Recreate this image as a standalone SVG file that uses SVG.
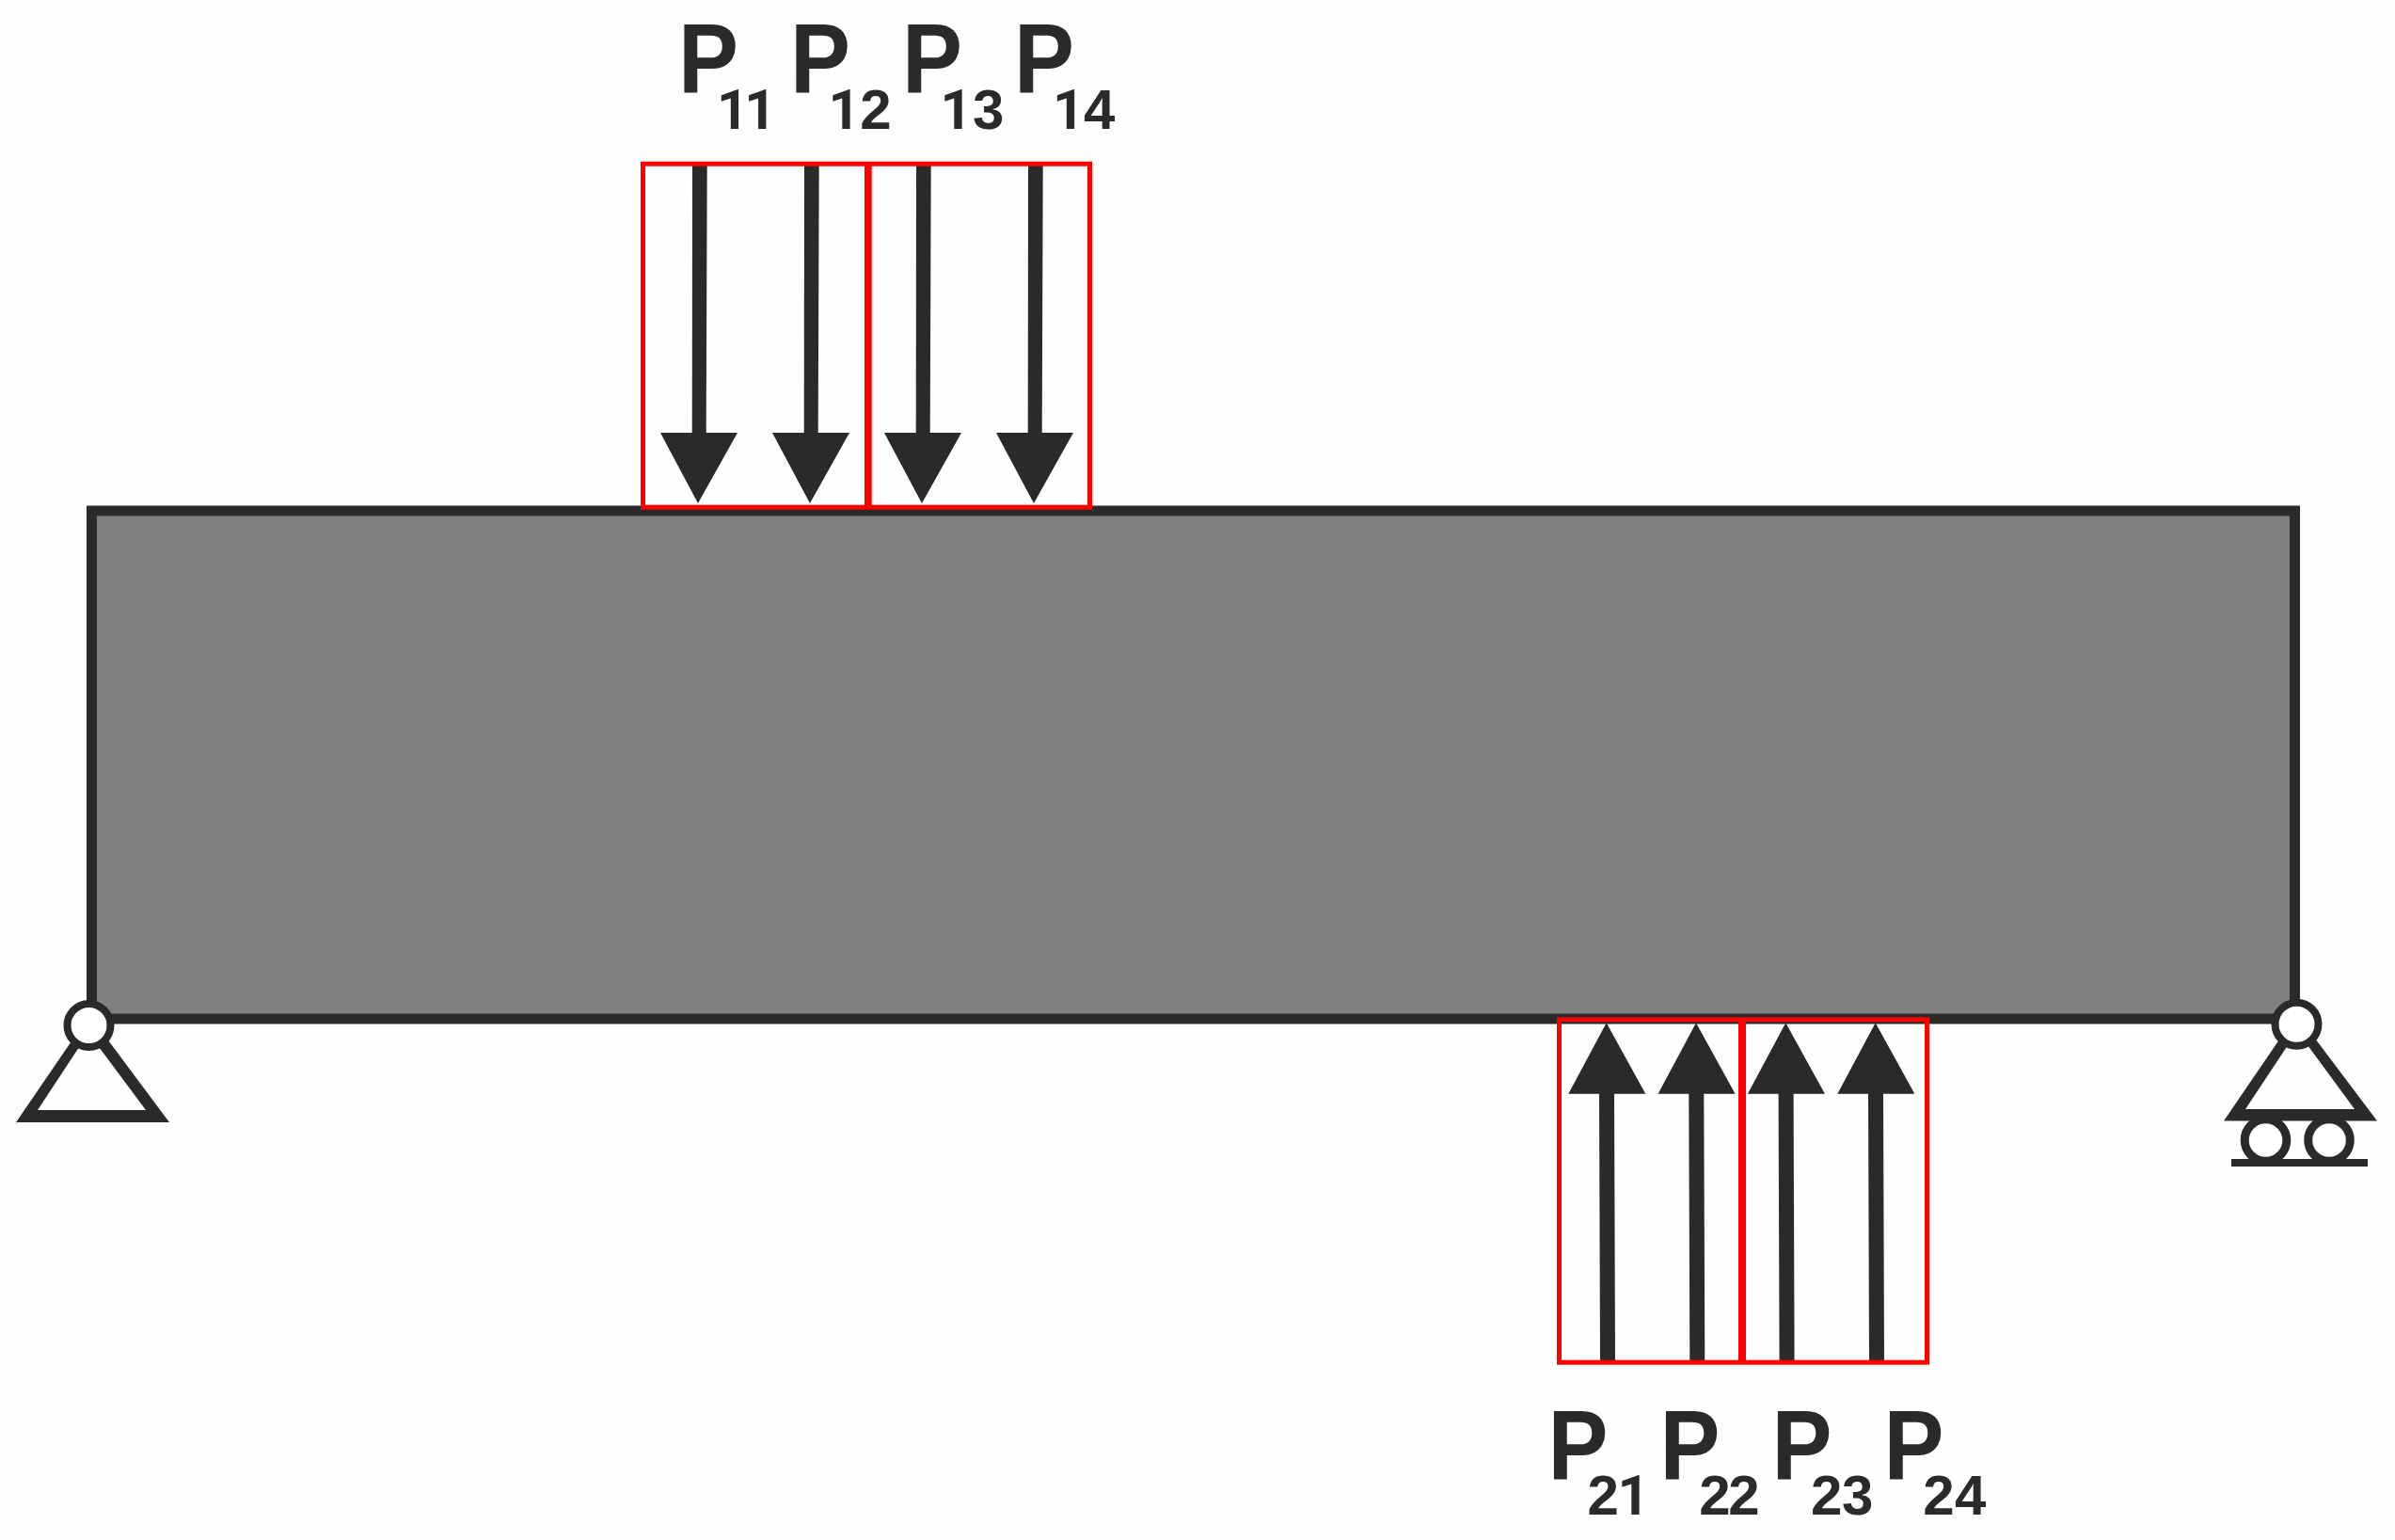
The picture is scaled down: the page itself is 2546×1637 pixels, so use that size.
<svg xmlns="http://www.w3.org/2000/svg" xmlns:xlink="http://www.w3.org/1999/xlink" width="2546" height="1637" viewBox="0 0 2546 1637">
<style>
.ink{fill:#2b2a29}
.ring{fill:#fff;stroke:#2b2a29;stroke-width:8}
.wheel{fill:#fff;stroke:#2b2a29;stroke-width:9}
.box{fill:none;stroke:#f00;stroke-width:5}
.div{fill:#f00}
.p{font-family:"Liberation Sans",Arial,sans-serif;font-weight:700;fill:#2b2a29;font-size:100px}
.s{font-family:"Liberation Sans",Arial,sans-serif;font-weight:700;fill:#2b2a29;font-size:60px}
.one{font-family:Roboto,"Liberation Sans",sans-serif;font-size:59px}
</style>
<defs>
<path id="down" class="ink" d="M736 172L751.700 172L750.700 460L784 460L742 535L702 460L735.700 460Z"/>
<path id="up" class="ink" d="M1700 1162.700L1667.300 1162.700L1707.700 1087.300L1749.300 1162.700L1716 1162.700L1717 1447L1701 1447Z"/>
</defs>
<rect width="2546" height="1637" fill="#fefefe"/>
<g id="beam"><rect x="97.500" y="543" width="2342" height="540" fill="#808080" stroke="#2b2a29" stroke-width="11"/></g>
<g id="support-left">
<path class="ink" fill-rule="evenodd" d="M17 1193L95 1079L180 1193ZM40 1180L155 1180L94 1098Z"/>
<circle class="ring" cx="94.500" cy="1090" r="23"/>
</g>
<g id="support-right">
<circle class="wheel" cx="2408.500" cy="1212" r="22.300"/>
<circle class="wheel" cx="2476" cy="1212" r="22.300"/>
<rect class="ink" x="2372" y="1232" width="145" height="8"/>
<path class="ink" fill-rule="evenodd" d="M2364 1191.500L2441.500 1078L2527 1191.500ZM2387 1179L2503 1179L2442 1096Z"/>
<circle class="ring" cx="2441.500" cy="1088.700" r="23"/>
</g>
<g id="connectors">
<use xlink:href="#down" href="#down"/>
<use xlink:href="#down" href="#down" x="119"/>
<use xlink:href="#down" href="#down" x="238"/>
<use xlink:href="#down" href="#down" x="357"/>
<use xlink:href="#up" href="#up"/>
<use xlink:href="#up" href="#up" x="95.300"/>
<use xlink:href="#up" href="#up" x="190.600"/>
<use xlink:href="#up" href="#up" x="286"/>
</g>
<g id="load-top">
<rect class="box" x="683.500" y="174.200" width="475" height="365"/>
<rect class="div" x="919" y="175" width="7.700" height="362"/>
</g>
<g id="load-bottom">
<rect class="box" x="1657.500" y="1083.800" width="391" height="364.400"/>
<rect class="div" x="1848" y="1085" width="8" height="362"/>
</g>
<g id="labels-top">
<text class="p" transform="translate(721,99.300) scale(.96,1.05)">P</text>
<text class="s" y="136.700"><tspan class="one" x="762 791.300">11</tspan></text>
<text class="p" transform="translate(840,99.300) scale(.96,1.05)">P</text>
<text class="s" y="136.700"><tspan class="one" x="880.400">1</tspan><tspan x="914.300">2</tspan></text>
<text class="p" transform="translate(959,99.300) scale(.96,1.05)">P</text>
<text class="s" y="136.700"><tspan class="one" x="999.400">1</tspan><tspan x="1034">3</tspan></text>
<text class="p" transform="translate(1078,99.300) scale(.96,1.05)">P</text>
<text class="s" y="136.700"><tspan class="one" x="1119">1</tspan><tspan x="1152">4</tspan></text>
</g>
<g id="labels-bottom">
<text class="p" transform="translate(1645.600,1572.700) scale(.96,1.05)">P</text>
<text class="s" y="1610"><tspan x="1687.600">2</tspan><tspan class="one" x="1719.400">1</tspan></text>
<text class="p" transform="translate(1764.600,1572.700) scale(.96,1.05)">P</text>
<text class="s" y="1610"><tspan x="1806.300 1837.300">22</tspan></text>
<text class="p" transform="translate(1883.600,1572.700) scale(.96,1.05)">P</text>
<text class="s" y="1610"><tspan x="1925 1958">23</tspan></text>
<text class="p" transform="translate(2002.600,1572.700) scale(.96,1.05)">P</text>
<text class="s" y="1610"><tspan x="2044.300 2078">24</tspan></text>
</g>
</svg>
